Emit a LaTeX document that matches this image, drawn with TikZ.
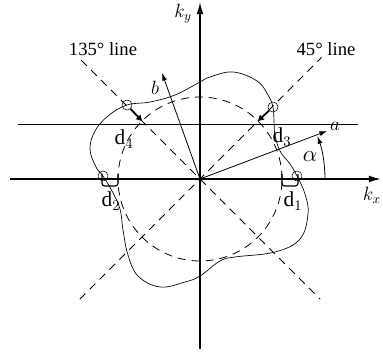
\documentclass[tikz,border=0pt]{standalone}
\usepackage{fontspec}
\setmainfont{Liberation Serif}
\usetikzlibrary{positioning, arrows.meta, calc}
\tikzset{
  axis/.style={line width=1.2pt, -{Latex[length=3.2mm,width=1.8mm]}},
  guide/.style={line width=0.5pt},
  dline/.style={line width=0.6pt, dash pattern=on 6pt off 4.5pt},
  wave/.style={line width=0.5pt},
  vec/.style={line width=0.6pt, -{Latex[length=2mm,width=1.3mm]}},
  spot/.style={circle, draw, line width=0.4pt, minimum size=7.5pt, inner sep=0pt},
  dmark/.style={line width=1.3pt, -{Triangle[length=1.5mm,width=1.6mm]}},
  brk/.style={line width=0.9pt, rounded corners=2pt},
  lbl/.style={font=\fontsize{14}{16}\selectfont, inner sep=1pt},
  dlbl/.style={font=\fontsize{16}{18}\selectfont, inner sep=1pt},
}

\begin{document}
\begin{tikzpicture}[x=0.75pt, y=0.75pt]
\useasboundingbox (-200,-178) rectangle (183,179);
% axes and guides
\coordinate (O) at (0,0);
\coordinate (xl) at (-190,0);
\coordinate (xr) at (181,0);
\coordinate (yb) at (0,-170);
\coordinate (yt) at (0,177);
\coordinate (hl) at (-182,55);
\coordinate (hr) at (158,55);
\draw[axis] (xl) -- (xr);
\draw[axis] (yb) -- (yt);
\draw[guide] (hl) -- (hr);
\node[lbl] (kx) at (172,-16) {$k_x$};
\node[lbl] (ky) at (-17,165) {$k_y$};

% 45 and 135 degree lines
\coordinate (g1) at (225:170);
\coordinate (g2) at (45:172);
\coordinate (g3) at (135:168);
\coordinate (g4) at (-45:170);
\draw[dline] (g1) -- (g2);
\draw[dline] (g3) -- (g4);
\node[lbl] (l45) at (126,130) {45° line};
\node[lbl] (l135) at (-97,130) {135° line};

% reference circle and contour
\draw[dline] (O) circle[radius=82];
\draw[wave] plot[smooth cycle, tension=0.65] coordinates {
  (97,3) (90,15) (80,28) (75,44) (74,58) (73,72) (68,84) (57,98)
  (33,107) (10,102) (0,97) (-25,84) (-50,77) (-73,74) (-92,63)
  (-105,48) (-110,30) (-104,12) (-97,3) (-88,-12) (-80,-30)
  (-77,-51) (-72,-76) (-62,-97) (-40,-108) (-15,-103) (0,-97)
  (20,-82) (35,-78) (75,-73) (100,-60) (108,-35) (105,-15)};

% measured points
\node[spot] (s0) at (97,3) {};
\node[spot] (s45) at (73,72) {};
\node[spot] (s135) at (-73,74) {};
\node[spot] (s180) at (-97,3) {};
\coordinate (c45) at (45:82);
\coordinate (c135) at (135:82);
\draw[dmark] (s45) -- (c45);
\draw[dmark] (s135) -- (c135);
\coordinate (b1) at (82,5);
\coordinate (b2) at (-98,5);
\draw[brk] (b1) -- ++(0,-12) -- ++(16,0) -- ++(0,12);
\draw[brk] (b2) -- ++(0,-12) -- ++(16,0) -- ++(0,12);
\node[dlbl] (d1) at (93,-22) {d$_1$};
\node[dlbl] (d2) at (-89,-22) {d$_2$};
\node[dlbl] (d3) at (82,42) {d$_3$};
\node[dlbl] (d4) at (-76,40) {d$_4$};

% vectors a, b and angle
\coordinate (ta) at (127,48);
\coordinate (tb) at (-38,106);
\draw[vec] (O) -- (ta);
\draw[vec] (O) -- (tb);
\node[lbl] (na) at (135,53) {$a$};
\node[lbl] (nb) at (-45,91) {$b$};
\coordinate (r0) at (125,0);
\draw[vec] (r0) arc[start angle=0, end angle=20, radius=125];
\node[dlbl] (al) at (110,22) {$\alpha$};
\end{tikzpicture}
\end{document}
